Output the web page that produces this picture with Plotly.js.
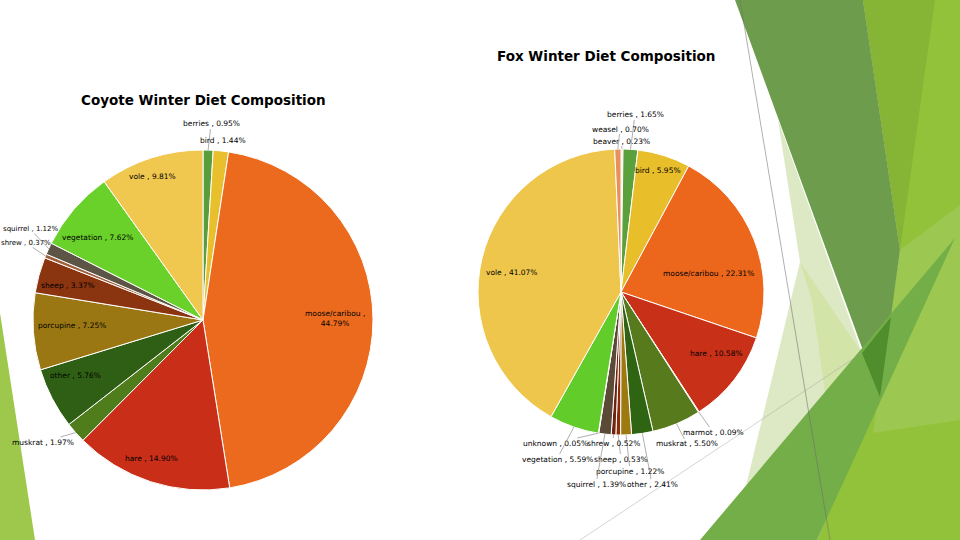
<!DOCTYPE html>
<html><head><meta charset="utf-8">
<script src="https://cdn.plot.ly/plotly-3.0.1.min.js"></script>
<style>html,body{margin:0;padding:0;background:#fff}#chart{width:960px;height:540px}</style>
</head><body><div id="chart"></div>
<script>
// ---- data ----
const coyoteLabels = ['berries','bird','moose/caribou','hare','muskrat','other','porcupine','sheep','shrew','squirrel','vegetation','vole'];
const coyoteValues = [0.95, 1.44, 44.79, 14.90, 1.97, 5.76, 7.25, 3.37, 0.37, 1.12, 7.62, 9.81];
const coyoteColors = ['#5a9e3c','#e8bf2c','#ec6a1e','#c92e18','#4f7d1c','#2f5f14','#9a7712','#8a3410','#a0603c','#5c5444','#6ad02a','#f0c850'];

const foxLabels = ['beaver','berries','bird','moose/caribou','hare','marmot','muskrat','other','porcupine','sheep','shrew','squirrel','unknown','vegetation','vole','weasel'];
const foxValues = [0.23, 1.65, 5.95, 22.31, 10.58, 0.09, 5.50, 2.41, 1.22, 0.53, 0.52, 1.39, 0.05, 5.59, 41.07, 0.70];
const foxColors = ['#e6d2b0','#5aa03c','#e8be2a','#ec661c','#c93018','#d06030','#567a1c','#2f6412','#9c7a10','#8a2c0c','#6e2412','#5a4a36','#b0b0b0','#62cc2a','#efc64c','#e8905c'];

// ---- layout config (positions / styles) ----
const W = 960, H = 540;
const FONT = 'DejaVu Sans, sans-serif';
const LBL = 7.5;
const coyoteGeom = {cx: 203, cy: 320, r: 170};
const foxGeom = {cx: 621, cy: 292, r: 143};
// label centre positions in px; third item true = leader line to the slice; fourth = font size override
const coyoteLabelPos = {
  'berries':[211,124,true], 'bird':[223,140], 'moose/caribou':[335,318], 'hare':[151,458],
  'muskrat':[43,442,true], 'other':[75,375], 'porcupine':[72,325], 'sheep':[68,285],
  'shrew':[26,243,true,7], 'squirrel':[30,229,true,7], 'vegetation':[97,237], 'vole':[152,177]
};
const foxLabelPos = {
  'beaver':[621,141,true], 'berries':[635,115,true], 'bird':[658,170], 'moose/caribou':[708,273],
  'hare':[716,353], 'marmot':[713,432,true], 'muskrat':[687,444,true], 'other':[652,484,true],
  'porcupine':[630,471,true], 'sheep':[621,459,true], 'shrew':[613,443,true], 'squirrel':[596,484,true],
  'unknown':[555,443,true], 'vegetation':[557,459,true], 'vole':[511,272], 'weasel':[620,129,true]
};
const wrapLabel = {coyote:'moose/caribou'};

function fmt(l, v, wrap){ return l + ' ,' + (wrap ? '<br>' : ' ') + v.toFixed(2) + '%'; }
function domainOf(g){
  return {x:[(g.cx-g.r)/W, (g.cx+g.r)/W], y:[1-(g.cy+g.r)/H, 1-(g.cy-g.r)/H]};
}
function pieTrace(labels, values, colors, geom){
  return {
    type:'pie', labels:labels, values:values, sort:false, direction:'clockwise', rotation:0,
    domain: domainOf(geom),
    marker:{colors:colors, line:{color:'#ffffff', width:1}},
    textinfo:'none', hoverinfo:'skip', showlegend:false
  };
}
function labelAnns(labels, values, geom, pos, wrapName){
  const total = values.reduce((a,b)=>a+b,0);
  let cum = 0; const anns = [];
  labels.forEach((l,i)=>{
    const mid = (cum + values[i]/2)/total * 2*Math.PI;
    cum += values[i];
    if(!pos[l]) return;
    const [tx, ty, arrow, fs] = pos[l];
    const txt = fmt(l, values[i], l === wrapName);
    const font = {family:FONT, size:fs || LBL, color:'#000'};
    if(!arrow){
      anns.push({xref:'paper', yref:'paper', x:tx/W, y:1-ty/H, text:txt, showarrow:false,
        xanchor:'center', yanchor:'middle', font:font});
    } else {
      const px = geom.cx + geom.r*Math.sin(mid), py = geom.cy - geom.r*Math.cos(mid);
      anns.push({xref:'paper', yref:'paper', x:px/W, y:1-py/H, ax:tx-px, ay:ty-py, text:txt,
        showarrow:true, arrowhead:0, arrowwidth:0.8, arrowcolor:'#9a9a9a', standoff:0, startstandoff:0,
        borderpad:0, font:font});
    }
  });
  return anns;
}
function P(pts){ return 'M ' + pts.map(p => (p[0]/W).toFixed(5)+','+(1-p[1]/H).toFixed(5)).join(' L ') + ' Z'; }
function shape(pts, color){ return {type:'path', xref:'paper', yref:'paper', path:P(pts), fillcolor:color, line:{width:0}, layer:'below'}; }
function line(a, b, color){ return {type:'line', xref:'paper', yref:'paper', x0:a[0]/W, y0:1-a[1]/H, x1:b[0]/W, y1:1-b[1]/H, line:{color:color, width:1}, layer:'below'}; }

const shapes = [
  shape([[863,0],[960,0],[960,540],[817,540],[880,397],[900,250]], '#92c23a'),
  shape([[863,0],[935,0],[900,250]], '#86b535'),
  shape([[900,250],[960,205],[960,420],[873,433]], '#9cc852'),
  shape([[778,120],[862,353],[733,540],[800,262]], '#dde9c4'),
  shape([[800,262],[862,353],[826,400],[812,300]], '#d2e4a8'),
  shape([[735,0],[863,0],[900,250],[880,397]], '#6d9c4c'),
  shape([[700,540],[817,540],[955,238]], '#74ae48'),
  shape([[862,353],[891,317],[880,397]], '#4f8d2d'),
  shape([[0,313],[35,540],[0,540]], '#9dc84c'),
  line([740,0],[830,540], 'rgba(110,110,110,0.55)'),
  line([580,540],[862,353], 'rgba(160,160,160,0.45)')
];

const titleFont = {family:FONT, size:13.5, color:'#000', weight:'bold'};
const annotations = [
  {xref:'paper', yref:'paper', x:203/W, y:1-100/H, text:'Coyote Winter Diet Composition', showarrow:false,
   xanchor:'center', yanchor:'middle', font:titleFont},
  {xref:'paper', yref:'paper', x:606/W, y:1-56/H, text:'Fox Winter Diet Composition', showarrow:false,
   xanchor:'center', yanchor:'middle', font:titleFont}
].concat(labelAnns(coyoteLabels, coyoteValues, coyoteGeom, coyoteLabelPos, wrapLabel.coyote))
 .concat(labelAnns(foxLabels, foxValues, foxGeom, foxLabelPos, null));

const data = [
  pieTrace(coyoteLabels, coyoteValues, coyoteColors, coyoteGeom),
  pieTrace(foxLabels, foxValues, foxColors, foxGeom)
];
const layout = {
  width:W, height:H, margin:{l:0,r:0,t:0,b:0},
  paper_bgcolor:'#ffffff', plot_bgcolor:'#ffffff', showlegend:false,
  shapes:shapes, annotations:annotations
};
Plotly.newPlot('chart', data, layout, {displayModeBar:false, staticPlot:true});
</script>
</body></html>
